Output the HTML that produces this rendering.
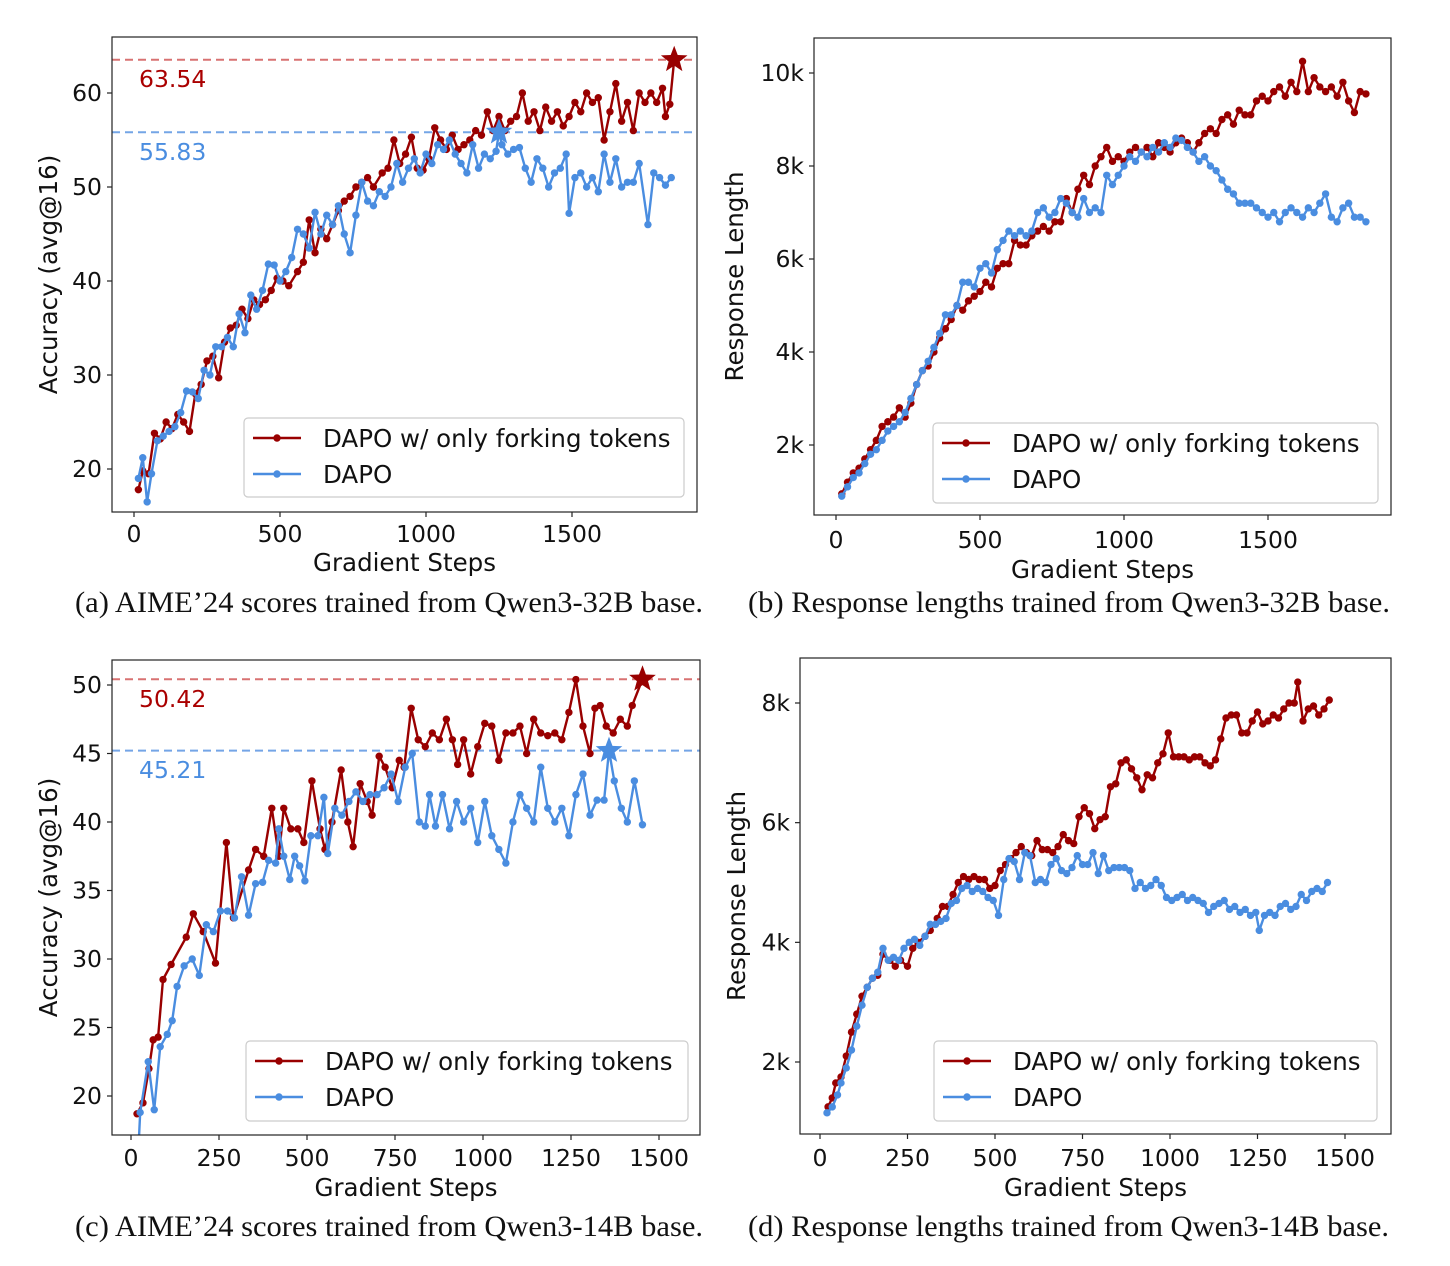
<!DOCTYPE html>
<html><head><meta charset="utf-8">
<style>
html,body{margin:0;padding:0;background:#fff;}
svg{display:block;font-family:"DejaVu Sans","Liberation Sans",sans-serif;}
.cap{font-family:"Liberation Serif",serif;font-size:29.5px;fill:#111;}
</style></head>
<body>
<svg id="chart" width="1450" height="1266" viewBox="0 0 1450 1266" xmlns="http://www.w3.org/2000/svg">
<text class="cap" x="75" y="612" textLength="628" lengthAdjust="spacingAndGlyphs">(a) AIME’24 scores trained from Qwen3-32B base.</text>
<text class="cap" x="748" y="612" textLength="642" lengthAdjust="spacingAndGlyphs">(b) Response lengths trained from Qwen3-32B base.</text>
<text class="cap" x="75" y="1236" textLength="628" lengthAdjust="spacingAndGlyphs">(c) AIME’24 scores trained from Qwen3-14B base.</text>
<text class="cap" x="748" y="1236" textLength="641" lengthAdjust="spacingAndGlyphs">(d) Response lengths trained from Qwen3-14B base.</text>
</svg>
<script>
// ---- Panel (a) data ----
const aRedSteps=[15,30,50,70,90,110,130,150,170,190,210,230,250,270,290,310,330,350,370,390,410,430,450,470,490,510,530,560,580,600,620,640,660,680,700,720,740,760,780,800,820,850,870,890,910,930,950,970,990,1010,1030,1050,1070,1090,1110,1130,1150,1170,1190,1210,1230,1250,1270,1290,1310,1330,1350,1370,1390,1410,1430,1450,1470,1490,1510,1530,1550,1570,1590,1610,1630,1650,1670,1690,1710,1730,1750,1770,1790,1810,1820,1835,1850];
const aRedVals=[17.8,19.8,19.5,23.8,23.2,25,24.3,25.8,25,24,28,29,31.5,32,29.7,33.5,35,35.3,37,36,38,37.5,38,39,40.3,40,39.5,41,42,46.5,43,45.5,44.5,46,47.5,48.5,49,50,50.5,51,50,51.5,52,55,52.5,53.5,55.3,52,51.8,53,56.3,55,54,55.5,54,54.5,55,56,55.5,58,56,57.5,56,57,57.5,60,57,58,56,58.5,57,58,56.5,57.5,59,58,60,59,59.5,55,58,61,57,59,56,60,59,60,59,60.5,57.5,58.8,63.54];
const aBlueSteps=[15,30,45,60,80,100,120,140,160,180,200,220,240,260,280,300,320,340,360,380,400,420,440,460,480,500,520,540,560,580,600,620,640,660,680,700,720,740,760,780,800,820,840,860,880,900,920,940,960,980,1000,1020,1040,1060,1080,1100,1120,1140,1160,1180,1200,1220,1240,1250,1260,1280,1300,1320,1340,1360,1380,1400,1420,1440,1460,1480,1490,1510,1530,1550,1570,1590,1610,1630,1650,1670,1690,1710,1730,1760,1780,1800,1820,1840];
const aBlueVals=[19,21.2,16.5,19.5,23,23.5,24,24.5,26,28.3,28.2,27.5,30.5,30,33,33,34,33,36.5,34.5,38.5,37,39,41.8,41.7,40,41,42.5,45.5,45,43.5,47.3,45,47,46,48,45,43,47,50.5,48.5,48,49.5,49,50,52.5,50.5,52,53,51.5,53.5,52.5,54.5,54,55,53.5,52.5,51.5,54.5,52,53.5,53,53.8,55.83,54.5,53.5,54,54.2,52,50.5,53,52,50,51.5,52,53.5,47.2,51,51.5,50,51,49.5,53.5,50.5,53,50,50.5,50.5,52.5,46,51.5,51,50.2,51];
const aYTicks=[20,30,40,50,60];
const aXTicks=[0,500,1000,1500];
const aBest=[63.54,55.83];
// ---- Panel (b) data ----
const bRedSteps=[20,40,60,80,100,120,140,160,180,200,220,240,260,280,300,320,340,360,380,400,420,440,460,480,500,520,540,560,580,600,620,640,660,680,700,720,740,760,780,800,820,840,860,880,900,920,940,960,980,1000,1020,1040,1060,1080,1100,1120,1140,1160,1180,1200,1220,1240,1260,1280,1300,1320,1340,1360,1380,1400,1420,1440,1460,1480,1500,1520,1540,1560,1580,1600,1620,1640,1660,1680,1700,1720,1740,1760,1780,1800,1820,1840];
const bRedVals=[950,1200,1400,1500,1700,1900,2100,2400,2500,2600,2800,2600,2900,3300,3600,3700,4000,4300,4500,4700,5000,4900,5100,5200,5300,5500,5400,5800,5900,5900,6400,6300,6300,6500,6600,6700,6600,6800,6800,7300,7000,7500,7800,7600,8000,8200,8400,8100,8200,8100,8300,8400,8300,8400,8200,8500,8400,8300,8500,8600,8500,8300,8500,8700,8800,8700,9000,9100,8900,9200,9100,9100,9400,9500,9400,9600,9700,9500,9800,9600,10250,9600,9900,9700,9600,9700,9500,9800,9400,9150,9600,9550];
const bBlueSteps=[20,40,60,80,100,120,140,160,180,200,220,240,260,280,300,320,340,360,380,400,420,440,460,480,500,520,540,560,580,600,620,640,660,680,700,720,740,760,780,800,820,840,860,880,900,920,940,960,980,1000,1020,1040,1060,1080,1100,1120,1140,1160,1180,1200,1220,1240,1260,1280,1300,1320,1340,1360,1380,1400,1420,1440,1460,1480,1500,1520,1540,1560,1580,1600,1620,1640,1660,1680,1700,1720,1740,1760,1780,1800,1820,1840];
const bBlueVals=[900,1100,1300,1400,1600,1800,1900,2100,2300,2400,2500,2700,3000,3300,3600,3800,4100,4400,4800,4800,5000,5500,5500,5400,5800,5900,5700,6200,6400,6600,6500,6600,6500,6600,7000,7100,6900,7000,7300,7200,7000,6900,7300,7000,7100,7000,7800,7600,7800,8000,8200,8100,8300,8200,8400,8300,8500,8400,8600,8550,8400,8300,8100,8200,8000,7900,7700,7500,7400,7200,7200,7200,7100,7000,6900,7000,6800,7000,7100,7000,6900,7100,7000,7200,7400,6900,6800,7100,7200,6900,6900,6800];
const bYTicks=[2000,4000,6000,8000,10000];
const bYLabels=["2k","4k","6k","8k","10k"];
const bXTicks=[0,500,1000,1500];
// ---- Panel (c) data ----
const cRedSteps=[17,34,51,63,77,91,114,157,177,205,240,271,291,334,354,377,400,420,434,454,474,491,514,537,551,571,597,616,631,651,671,685,705,722,742,762,776,796,816,836,856,876,896,913,928,945,965,985,1005,1025,1045,1065,1085,1105,1124,1144,1164,1184,1204,1224,1244,1264,1284,1304,1318,1333,1350,1370,1390,1410,1424,1453];
const cRedVals=[18.7,19.5,22,24.1,24.3,28.5,29.6,31.6,33.3,32,29.7,38.5,33,36.5,38,37.5,41,37.5,41,39.5,39.5,38.5,43,39.5,38,40,43.8,40,38.2,42.8,41.5,40.5,44.8,44,42.5,44.5,44,48.3,46,45.5,46.5,46,47.5,46,44.2,46,43.5,45.5,47.2,47,44.5,46.5,46.5,47,45,47.5,46.5,46.3,46.5,46,48,50.4,47,45,48.3,48.5,47,46.5,47.5,47,48.5,50.42];
const cBlueSteps=[17,26,49,66,83,103,117,131,151,174,194,214,234,254,274,294,314,334,354,374,391,411,420,434,451,465,479,494,511,531,548,559,579,599,619,639,659,679,699,719,739,759,779,799,819,836,848,865,885,905,925,945,965,985,1005,1025,1045,1065,1085,1105,1124,1144,1164,1184,1204,1224,1244,1264,1284,1304,1324,1344,1358,1373,1393,1410,1430,1453];
const cBlueVals=[14,18.8,22.5,19,23.6,24.5,25.5,28,29.5,30,28.8,32.5,32,33.5,33.5,33,36,33.2,35.5,35.6,37.2,37,39.5,37.5,35.8,37.5,36.8,35.7,39,39,41.8,37.7,41,40.5,41.5,42.2,41.5,42,42,42.5,43.5,41.5,44,45,40,39.7,42,39.7,42,39.5,41.5,40,41,38.5,41.5,39,38,37,40,42,41,40,44,41,40,41,39,42,43.5,40.5,41.6,41.6,45.21,43,41,40,43,39.8];
const cYTicks=[20,25,30,35,40,45,50];
const cXTicks=[0,250,500,750,1000,1250,1500];
const cBest=[50.42,45.21];
// ---- Panel (d) data ----
const dRedSteps=[23,35,45,60,75,90,105,120,135,150,165,180,200,215,230,250,265,280,300,315,335,350,365,380,395,410,425,440,455,470,485,500,515,530,545,560,575,590,605,620,635,650,665,680,695,710,725,740,755,770,785,800,815,830,845,860,875,890,905,920,935,950,965,980,995,1010,1025,1040,1055,1070,1085,1100,1115,1130,1145,1160,1175,1190,1205,1220,1235,1250,1265,1280,1295,1310,1325,1340,1355,1365,1380,1395,1410,1425,1440,1455];
const dRedVals=[1250,1400,1650,1750,2100,2500,2800,3100,3250,3400,3450,3800,3700,3600,3700,3600,3900,4000,4100,4200,4400,4600,4600,4800,5000,5100,5050,5100,5050,5050,4900,4950,5200,5300,5400,5500,5600,5500,5450,5700,5550,5550,5500,5600,5800,5700,5650,6100,6250,6150,5900,6050,6100,6600,6650,7000,7050,6900,6750,6550,6800,6750,7000,7150,7500,7100,7100,7100,7050,7100,7100,7000,6950,7050,7400,7750,7800,7800,7500,7500,7700,7850,7650,7700,7800,7750,7900,8000,8000,8350,7700,7900,7950,7800,7900,8050];
const dBlueSteps=[20,35,50,60,75,90,105,120,135,150,165,180,195,210,225,240,255,270,285,300,315,330,345,360,375,390,405,420,435,450,465,480,495,510,525,540,555,570,585,600,615,630,645,660,675,690,705,720,735,750,765,780,795,810,825,840,855,870,885,900,915,930,945,960,975,990,1005,1020,1035,1050,1065,1080,1095,1110,1125,1140,1155,1170,1185,1200,1215,1230,1245,1255,1270,1285,1300,1315,1330,1345,1360,1375,1390,1405,1420,1435,1450];
const dBlueVals=[1150,1250,1450,1650,1900,2200,2600,2950,3250,3400,3500,3900,3700,3750,3700,3900,4000,4050,3950,4100,4300,4300,4350,4400,4650,4700,4900,4950,4850,4900,4850,4750,4700,4450,5050,5400,5350,5050,5500,5450,5000,5050,5000,5300,5400,5200,5150,5250,5450,5300,5300,5500,5150,5450,5200,5250,5250,5250,5200,4900,5000,4900,4950,5050,4950,4750,4700,4750,4800,4700,4750,4700,4650,4500,4600,4650,4700,4550,4600,4500,4550,4450,4500,4200,4450,4500,4450,4600,4650,4550,4600,4800,4700,4850,4900,4850,5000];
const dYTicks=[2000,4000,6000,8000];
const dYLabels=["2k","4k","6k","8k"];
const dXTicks=[0,250,500,750,1000,1250,1500];

const NS="http://www.w3.org/2000/svg";
const svg=document.getElementById('chart');
const RED="#990000", BLUE="#4a8de0";
function mk(tag,attrs,parent){const e=document.createElementNS(NS,tag);for(const k in attrs)e.setAttribute(k,attrs[k]);(parent||svg).appendChild(e);return e;}
function scale(d0,d1,r0,r1){return v=>r0+(v-d0)*(r1-r0)/(d1-d0);}
function starPts(cx,cy,R){const r=R*0.42;let p=[];for(let i=0;i<10;i++){const a=-Math.PI/2+i*Math.PI/5;const rr=i%2?r:R;p.push((cx+rr*Math.cos(a)).toFixed(1)+","+(cy+rr*Math.sin(a)).toFixed(1));}return p.join(" ");}

function panel(id,box,xs,ys,xTicks,yTicks,yLabels,series,ylab,xlabY,ylabX,xtickY,legend,best,bestLabelY,stars){
  const g=mk('g',{});
  
  
  const cp=mk('clipPath',{id:'clip-'+id},g);
  mk('rect',{x:box[0],y:box[1],width:box[2]-box[0],height:box[3]-box[1]},cp);
  if(best){
    const cols=["#d87272","#74a5e6"], tcols=["#aa0000","#4a8de0"];
    best.forEach((b,i)=>{
      const l=mk('line',{x1:box[0],x2:box[2],y1:ys(b),y2:ys(b),stroke:cols[i],'stroke-width':2,'stroke-dasharray':'8,5'},g);
      
      
      const t=mk('text',{x:box[0]+27,y:bestLabelY[i],fill:tcols[i],'font-size':23.5},g);
      
      
      t.textContent=b.toFixed(2);
    });
  }
  const sg=mk('g',{'clip-path':'url(#clip-'+id+')'},g);
  series.forEach(s=>{
    const pts=s.steps.map((st,i)=>xs(st).toFixed(1)+","+ys(s.vals[i]).toFixed(1)).join(" ");
    const pl=mk('polyline',{points:pts,fill:'none',stroke:s.color,'stroke-width':2.4,'stroke-linejoin':'round'},sg);
    
    
    s.steps.forEach((st,i)=>{
      const c=mk('circle',{cx:xs(st),cy:ys(s.vals[i]),r:3.7,fill:s.color},sg);
      
      
    });
  });
  if(stars){
    stars.forEach(st=>{
      const p=mk('polygon',{points:starPts(xs(st.step),ys(st.val),14),fill:st.color},g);
      
      
    });
  }
  const fr=mk('rect',{x:box[0],y:box[1],width:box[2]-box[0],height:box[3]-box[1],fill:'none',stroke:'#222','stroke-width':1.2},g);
  
  
  xTicks.forEach(t=>{
    const x=xs(t);
    mk('line',{x1:x,x2:x,y1:box[3],y2:box[3]+5,stroke:'#222','stroke-width':1.2},g);
    const tx=mk('text',{x:x,y:xtickY,'text-anchor':'middle','font-size':23.5,fill:'#111'},g);
    
    
    tx.textContent=t;
  });
  yTicks.forEach((t,i)=>{
    const y=ys(t);
    mk('line',{x1:box[0]-5,x2:box[0],y1:y,y2:y,stroke:'#222','stroke-width':1.2},g);
    const ty=mk('text',{x:box[0]-10,y:y+8,'text-anchor':'end','font-size':23.5,fill:'#111'},g);
    
    
    ty.textContent=yLabels?yLabels[i]:t;
  });
  const xt=mk('text',{x:(box[0]+box[2])/2,y:xlabY,'text-anchor':'middle','font-size':24.5,fill:'#111'},g);
  
  
  xt.textContent='Gradient Steps';
  const cy=(box[1]+box[3])/2;
  const yt=mk('text',{x:ylabX,y:cy,'text-anchor':'middle','font-size':24.5,fill:'#111',transform:'rotate(-90 '+ylabX+' '+cy+')'},g);
  
  
  yt.textContent=ylab;
  const lg=mk('g',{},g);
  
  
  mk('rect',{x:legend[0],y:legend[1],width:legend[2]-legend[0],height:legend[3]-legend[1],rx:4,fill:'#fff','fill-opacity':0.85,stroke:'#cccccc','stroke-width':1.2},lg);
  series.forEach((s,i)=>{
    const yy=legend[1]+20+i*36;
    const e=mk('g',{},lg);
    
    
    mk('line',{x1:legend[0]+9,x2:legend[0]+57,y1:yy,y2:yy,stroke:s.color,'stroke-width':2.4},e);
    mk('circle',{cx:legend[0]+33,cy:yy,r:3.7,fill:s.color},e);
    const t=mk('text',{x:legend[0]+79,y:yy+9,'font-size':24.5,fill:'#111'},e);
    t.textContent=s.label;
  });
}
const LR="DAPO w/ only forking tokens";
panel('a',[112,37,697,512],scale(0,500,134,280),scale(50,60,187,93),aXTicks,aYTicks,null,
 [{name:'forking',label:LR,color:RED,steps:aRedSteps,vals:aRedVals},{name:'dapo',label:'DAPO',color:BLUE,steps:aBlueSteps,vals:aBlueVals}],
 'Accuracy (avg@16)',571,57,542,[244,418,684,497],aBest,[87,160],
 [{name:'forking-best-star',step:aRedSteps[aRedSteps.length-1],val:aBest[0],color:RED},{name:'dapo-best-star',step:1250,val:aBest[1],color:BLUE}]);
panel('b',[814,38,1391,515],scale(0,500,836,980),scale(2000,8000,445,166),bXTicks,bYTicks,bYLabels,
 [{name:'forking',label:LR,color:RED,steps:bRedSteps,vals:bRedVals},{name:'dapo',label:'DAPO',color:BLUE,steps:bBlueSteps,vals:bBlueVals}],
 'Response Length',578,743,548,[933,423,1378,503],null,null,null);
panel('c',[112,660,700,1135],scale(0,250,131,219),scale(50,20,685,1096),cXTicks,cYTicks,null,
 [{name:'forking',label:LR,color:RED,steps:cRedSteps,vals:cRedVals},{name:'dapo',label:'DAPO',color:BLUE,steps:cBlueSteps,vals:cBlueVals}],
 'Accuracy (avg@16)',1196,57,1166,[246,1041,688,1121],cBest,[707,778],
 [{name:'forking-best-star',step:cRedSteps[cRedSteps.length-1],val:cBest[0],color:RED},{name:'dapo-best-star',step:1358,val:cBest[1],color:BLUE}]);
panel('d',[800,658,1391,1134],scale(0,250,820,907.5),scale(2000,8000,1062,703),dXTicks,dYTicks,dYLabels,
 [{name:'forking',label:LR,color:RED,steps:dRedSteps,vals:dRedVals},{name:'dapo',label:'DAPO',color:BLUE,steps:dBlueSteps,vals:dBlueVals}],
 'Response Length',1196,745,1166,[934,1041,1377,1121],null,null,null);
</script>
</body></html>
